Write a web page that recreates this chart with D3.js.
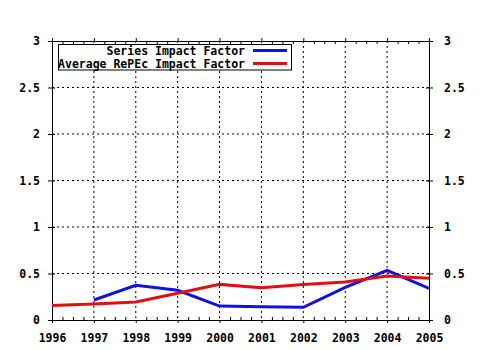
<!DOCTYPE html>
<html>
<head>
<meta charset="utf-8">
<script src="https://cdn.jsdelivr.net/npm/d3@7"></script>
<style>
  body { margin: 0; background: #fff; }
  text { font-family: "DejaVu Sans Mono", monospace; font-weight: bold; font-size: 11.5px; }
</style>
</head>
<body>
<svg id="chart" width="480" height="350"></svg>
<script>
const years = [1996, 1997, 1998, 1999, 2000, 2001, 2002, 2003, 2004, 2005]
const seriesImpact = [null, 0.215, 0.373, 0.32, 0.15, 0.143, 0.137, 0.35, 0.534, 0.34]
const averageImpact = [0.157, 0.172, 0.193, 0.287, 0.383, 0.347, 0.383, 0.408, 0.473, 0.448]
const yTicks = [0, 0.5, 1, 1.5, 2, 2.5, 3]
const seriesNames = ["Series Impact Factor", "Average RePEc Impact Factor"]
const seriesColors = ["#1010e0", "#e01010"]

const svg = d3.select("#chart")
const margin = { top: 41, right: 51, bottom: 30, left: 52 }
const width = +svg.attr("width") - margin.left - margin.right
const height = +svg.attr("height") - margin.top - margin.bottom

const g = svg.append("g").attr("transform", "translate(" + margin.left + "," + margin.top + ")")

const x = d3.scaleLinear().domain([1996, 2005]).range([0, width])
const y = d3.scaleLinear().domain([0, 3]).range([height, 0])

// minor ticks every quarter year
const minor = d3.range(1996, 2005.01, 0.25).filter(v => v % 1 !== 0)

// dotted grid
g.append("g").selectAll("line")
  .data(years.slice(1, -1))
  .join("line")
    .attr("x1", d => x(d)).attr("x2", d => x(d))
    .attr("y1", 0).attr("y2", height)
    .attr("stroke", "#000").attr("stroke-dasharray", "2,3")
g.append("g").selectAll("line")
  .data(yTicks.slice(1, -1))
  .join("line")
    .attr("x1", 0).attr("x2", width)
    .attr("y1", d => y(d)).attr("y2", d => y(d))
    .attr("stroke", "#000").attr("stroke-dasharray", "2,3")

function style(sel) {
  sel.select(".domain").attr("stroke", "#000")
  sel.selectAll(".tick line").attr("stroke", "#000")
  sel.selectAll("text").attr("fill", "#000").style("font-size", "11.5px")
    .style("font-family", "'DejaVu Sans Mono', monospace").style("font-weight", "bold")
}

// bottom
g.append("g").attr("transform", "translate(0," + height + ")")
  .call(d3.axisBottom(x).tickValues(minor).tickSizeInner(-3).tickSizeOuter(0).tickFormat(""))
  .call(style)
g.append("g").attr("transform", "translate(0," + height + ")")
  .call(d3.axisBottom(x).tickValues(years).tickSizeInner(3).tickSizeOuter(0).tickPadding(11).tickFormat(d3.format("d")))
  .call(style)
// top
g.append("g")
  .call(d3.axisTop(x).tickValues(minor).tickSizeInner(-3).tickSizeOuter(0).tickFormat(""))
  .call(style)
g.append("g")
  .call(d3.axisTop(x).tickValues(years).tickSizeInner(3).tickSizeOuter(0).tickFormat(""))
  .call(style)
// left and right
g.append("g")
  .call(d3.axisLeft(y).tickValues(yTicks).tickSizeInner(4).tickSizeOuter(0).tickPadding(8).tickFormat(d3.format("")))
  .call(style)
g.append("g").attr("transform", "translate(" + width + ",0)")
  .call(d3.axisRight(y).tickValues(yTicks).tickSizeInner(4).tickSizeOuter(0).tickPadding(11).tickFormat(d3.format("")))
  .call(style)
// ticks crossing inward
g.append("g").call(d3.axisRight(y).tickValues(yTicks).tickSizeInner(3).tickSizeOuter(0).tickFormat("")).call(style)
g.append("g").attr("transform", "translate(" + width + ",0)")
  .call(d3.axisLeft(y).tickValues(yTicks).tickSizeInner(3).tickSizeOuter(0).tickFormat("")).call(style)

// lines
const line = d3.line()
  .defined(d => d[1] != null)
  .x(d => x(d[0]))
  .y(d => y(d[1]))

const data = [seriesImpact, averageImpact]
data.forEach((vals, i) => {
  g.append("path")
    .datum(years.map((yr, j) => [yr, vals[j]]))
    .attr("fill", "none")
    .attr("stroke", seriesColors[i])
    .attr("stroke-width", 3)
    .attr("d", line)
})

// legend
const legend = svg.append("g")
legend.append("rect")
  .attr("x", 58.5).attr("y", 44.5).attr("width", 233).attr("height", 25.5)
  .attr("fill", "#fff").attr("stroke", "#000")
seriesNames.forEach((name, i) => {
  const cy = 50.5 + i * 13
  legend.append("text")
    .attr("x", 245).attr("y", cy + 4)
    .attr("text-anchor", "end")
    .text(name)
  legend.append("line")
    .attr("x1", 253).attr("x2", 287)
    .attr("y1", cy).attr("y2", cy)
    .attr("stroke", seriesColors[i]).attr("stroke-width", 3)
})
</script>
</body>
</html>
